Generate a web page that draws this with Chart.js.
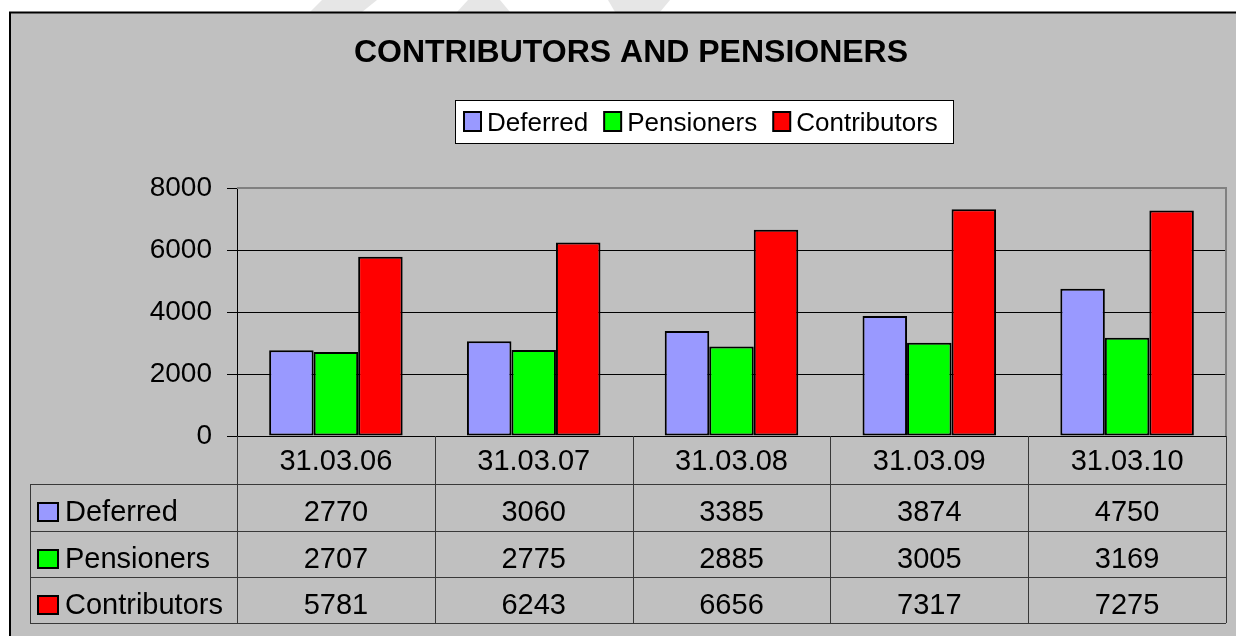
<!DOCTYPE html>
<html><head><meta charset="utf-8">
<script src="https://cdn.jsdelivr.net/npm/chart.js@4.4.1/dist/chart.umd.min.js"></script>
<style>html,body{margin:0;padding:0;background:#fff;overflow:hidden}#wrap{width:1236px;height:636px;position:relative}canvas{display:block}</style>
</head><body><div id="wrap"><canvas id="c" width="1236" height="636"></canvas></div>
<script>
const categories = ['31.03.06','31.03.07','31.03.08','31.03.09','31.03.10'];
const seriesNames = ['Deferred','Pensioners','Contributors'];
const deferred = [2770,3060,3385,3874,4750];
const pensioners = [2707,2775,2885,3005,3169];
const contributors = [5781,6243,6656,7317,7275];
const yTicks = [0,2000,4000,6000,8000];
const titleText = 'CONTRIBUTORS AND PENSIONERS';

const colors = ['#9999FF','#00FF00','#FF0000'];
const seriesData = [deferred, pensioners, contributors];
const FONT = '"Liberation Sans", Arial, sans-serif';

const decorPlugin = {
  id: 'decor',
  beforeDraw(chart) {
    const ctx = chart.ctx;
    ctx.save();
    ctx.fillStyle = '#ffffff';
    ctx.fillRect(0, 0, 1236, 636);
    // faint watermark fragments above the frame
    ctx.fillStyle = '#e6e6e6';
    ctx.beginPath(); ctx.moveTo(322,0); ctx.lineTo(377,0); ctx.lineTo(362,12); ctx.lineTo(310,12); ctx.closePath(); ctx.fill();
    ctx.beginPath(); ctx.moveTo(468,0); ctx.lineTo(500,0); ctx.lineTo(510,12); ctx.lineTo(457,12); ctx.closePath(); ctx.fill();
    ctx.beginPath(); ctx.moveTo(608,0); ctx.lineTo(670,0); ctx.lineTo(660,12); ctx.lineTo(615,12); ctx.closePath(); ctx.fill();
    // frame
    ctx.fillStyle = '#C0C0C0';
    ctx.fillRect(10, 12, 1240, 640);
    ctx.strokeStyle = '#000';
    ctx.lineWidth = 2;
    ctx.beginPath(); ctx.moveTo(10, 660); ctx.lineTo(10, 12.5); ctx.lineTo(1240, 12.5); ctx.stroke();
    // title
    ctx.fillStyle = '#000';
    ctx.font = 'bold 32px ' + FONT;
    ctx.textAlign = 'center';
    ctx.textBaseline = 'alphabetic';
    ctx.fillText(titleText, 631, 62);
    // legend
    ctx.font = '26px ' + FONT;
    const sq = 17, gapT = 6, gapI = 16, padL = 9, padR = 15;
    let w = padL + padR;
    seriesNames.forEach((n, i) => { w += sq + gapT + ctx.measureText(n).width + (i < seriesNames.length - 1 ? gapI : 0); });
    w = Math.round(w);
    const lx = Math.round(704 - w / 2), ly = 100, lh = 43;
    ctx.fillStyle = '#fff';
    ctx.fillRect(lx, ly, w, lh);
    ctx.strokeStyle = '#000';
    ctx.lineWidth = 1;
    ctx.strokeRect(lx + 0.5, ly + 0.5, w, lh);
    let x = lx + padL;
    ctx.textAlign = 'left';
    seriesNames.forEach((n, i) => {
      ctx.fillStyle = colors[i];
      ctx.fillRect(x, 112, sq, 19);
      ctx.strokeStyle = '#000'; ctx.lineWidth = 2;
      ctx.strokeRect(x, 112, sq, 19);
      x += sq + gapT;
      ctx.fillStyle = '#000';
      ctx.fillText(n, x, 131);
      x += ctx.measureText(n).width + gapI;
    });
    ctx.restore();
  },
  beforeDatasetsDraw(chart) {
    const ctx = chart.ctx, a = chart.chartArea;
    ctx.save();
    ctx.strokeStyle = '#808080';
    ctx.lineWidth = 2;
    ctx.beginPath(); ctx.moveTo(a.left, a.top); ctx.lineTo(a.right, a.top); ctx.lineTo(a.right, a.bottom); ctx.stroke();
    ctx.restore();
  },
  afterDraw(chart) {
    const ctx = chart.ctx, xs = chart.scales.x, a = chart.chartArea;
    const n = categories.length;
    const cw = (xs.right - xs.left) / n;
    const rows = [484, 531, 577, 623];
    const left = 30;
    ctx.save();
    ctx.strokeStyle = '#383838';
    ctx.lineWidth = 1;
    ctx.beginPath();
    rows.forEach(y => { ctx.moveTo(left, y + 0.5); ctx.lineTo(a.right, y + 0.5); });
    ctx.moveTo(left + 0.5, rows[0]); ctx.lineTo(left + 0.5, rows[3]);
    for (let i = 0; i <= n; i++) {
      const bx = Math.round(xs.getPixelForValue(i) - cw / 2) + 0.5;
      ctx.moveTo(bx, a.bottom); ctx.lineTo(bx, rows[3]);
    }
    ctx.stroke();
    ctx.fillStyle = '#000';
    ctx.font = '29px ' + FONT;
    ctx.textAlign = 'center';
    ctx.textBaseline = 'alphabetic';
    categories.forEach((c, i) => ctx.fillText(c, xs.getPixelForValue(i), 470));
    seriesNames.forEach((s, r) => {
      const top = rows[r];
      const base = top + 37;
      ctx.fillStyle = colors[r];
      ctx.fillRect(38, top + 19, 20, 18);
      ctx.strokeStyle = '#000'; ctx.lineWidth = 2;
      ctx.strokeRect(38, top + 19, 20, 18);
      ctx.fillStyle = '#000';
      ctx.textAlign = 'left';
      ctx.fillText(s, 65, base);
      ctx.textAlign = 'center';
      seriesData[r].forEach((v, i) => ctx.fillText(String(v), xs.getPixelForValue(i), base));
    });
    ctx.restore();
  }
};

new Chart(document.getElementById('c'), {
  type: 'bar',
  data: {
    labels: categories,
    datasets: seriesNames.map((name, i) => ({
      label: name,
      data: seriesData[i],
      backgroundColor: colors[i],
      borderColor: '#000',
      borderWidth: 2,
      borderSkipped: false,
      categoryPercentage: 0.675,
      barPercentage: 1.0
    }))
  },
  options: {
    responsive: false,
    devicePixelRatio: 1,
    animation: false,
    layout: { padding: { top: 188, right: 10, bottom: 200, left: 0 } },
    plugins: { legend: { display: false }, title: { display: false }, tooltip: { enabled: false } },
    scales: {
      x: { display: false },
      y: {
        min: 0, max: 8000,
        afterBuildTicks: (s) => { s.ticks = yTicks.map(v => ({ value: v })); },
        afterFit: (s) => { s.width = 237; },
        ticks: { color: '#000', padding: 15, font: { family: FONT, size: 28 }, callback: (v) => String(v) },
        grid: {
          color: (c) => (c.tick && c.tick.value === 8000 ? 'rgba(0,0,0,0)' : '#000'),
          tickColor: '#000',
          tickLength: 10,
          lineWidth: 1
        },
        border: { display: true, color: '#000', width: 1 }
      }
    }
  },
  plugins: [decorPlugin]
});
</script>
</body></html>
